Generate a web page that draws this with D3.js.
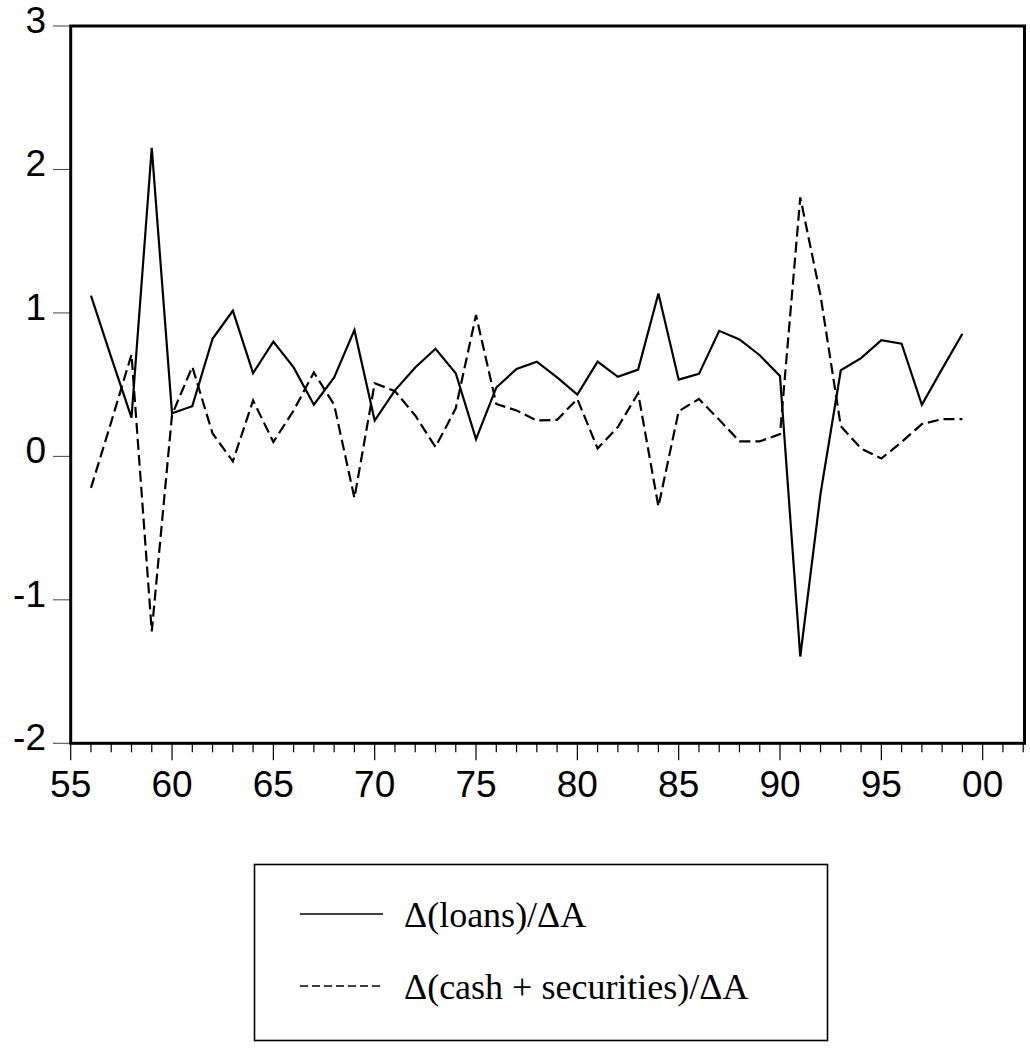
<html>
<head>
<meta charset="utf-8">
<script src="https://d3js.org/d3.v7.min.js"></script>
<style>
  body { margin: 0; background: #fff; }
  svg text.tick { font-family: "Liberation Sans", Arial, sans-serif; font-size: 37px; fill: #000; }
  svg text.leg { font-family: "Liberation Serif", "Times New Roman", serif; font-size: 36px; fill: #000; }
</style>
</head>
<body>
<div id="container"></div>
<script>
// data
var years = [1956, 1957, 1958, 1959, 1960, 1961, 1962, 1963, 1964, 1965,
             1966, 1967, 1968, 1969, 1970, 1971, 1972, 1973, 1974, 1975,
             1976, 1977, 1978, 1979, 1980, 1981, 1982, 1983, 1984, 1985,
             1986, 1987, 1988, 1989, 1990, 1991, 1992, 1993, 1994, 1995,
             1996, 1997, 1998, 1999];

var loans = [1.12, 0.69, 0.27, 2.15, 0.30, 0.35, 0.82, 1.015, 0.58, 0.80,
             0.62, 0.36, 0.55, 0.88, 0.25, 0.46, 0.62, 0.75, 0.58, 0.12,
             0.48, 0.61, 0.66, 0.55, 0.43, 0.66, 0.555, 0.605, 1.135, 0.535,
             0.575, 0.875, 0.815, 0.705, 0.56, -1.395, -0.26, 0.60, 0.685, 0.81,
             0.785, 0.36, 0.61, 0.855];

var cashSec = [-0.22, 0.24, 0.71, -1.22, 0.29, 0.625, 0.16, -0.035, 0.39, 0.10,
               0.32, 0.585, 0.36, -0.29, 0.51, 0.455, 0.285, 0.065, 0.335, 0.985,
               0.365, 0.32, 0.25, 0.255, 0.40, 0.055, 0.205, 0.44, -0.35, 0.315,
               0.40, 0.255, 0.105, 0.105, 0.155, 1.805, 1.12, 0.21, 0.055, -0.015,
               0.10, 0.225, 0.26, 0.26];

var yTicks = [-2, -1, 0, 1, 2, 3];
var xLabelYears = [1955, 1960, 1965, 1970, 1975, 1980, 1985, 1990, 1995, 2000];
var xLabels = ["55", "60", "65", "70", "75", "80", "85", "90", "95", "00"];
var legendNames = ["\u0394(loans)/\u0394A", "\u0394(cash + securities)/\u0394A"];

var width = 1030, height = 1057;
var plot = { left: 70.7, right: 1023.2, top: 26, bottom: 743.3 };

var svg = d3.select('#container').append('svg')
  .attr('width', width)
  .attr('height', height);

var x = d3.scaleLinear().domain([1955, 2002]).range([plot.left, plot.right]);
var y = d3.scaleLinear().domain([-2, 3]).range([plot.bottom, plot.top]);

// y ticks + labels
yTicks.forEach(function(d) {
  svg.append('line')
    .attr('x1', 53).attr('x2', plot.left)
    .attr('y1', y(d)).attr('y2', y(d))
    .attr('stroke', '#444').attr('stroke-width', 1);
  svg.append('text')
    .attr('class', 'tick')
    .attr('x', 46).attr('y', y(d) + 7)
    .attr('text-anchor', 'end')
    .text(d < 0 ? '-' + Math.abs(d) : d);
});

// x ticks, one per year, longer every 5
d3.range(1955, 2003).forEach(function(yr) {
  var major = xLabelYears.indexOf(yr) >= 0;
  svg.append('line')
    .attr('x1', x(yr)).attr('x2', x(yr))
    .attr('y1', plot.bottom).attr('y2', plot.bottom + (major ? 17 : 9))
    .attr('stroke', '#000').attr('stroke-width', 1.2);
});
xLabelYears.forEach(function(yr, i) {
  svg.append('text')
    .attr('class', 'tick')
    .attr('x', x(yr)).attr('y', 797)
    .attr('text-anchor', 'middle')
    .text(xLabels[i]);
});

// frame
svg.append('rect')
  .attr('x', plot.left).attr('y', plot.top)
  .attr('width', plot.right + 1.3 - plot.left).attr('height', plot.bottom - plot.top)
  .attr('fill', 'none').attr('stroke', '#000').attr('stroke-width', 3);

var line = d3.line()
  .x(function(d, i) { return x(years[i]); })
  .y(function(d) { return y(d); });

svg.append('path')
  .attr('d', line(loans))
  .attr('fill', 'none').attr('stroke', '#000').attr('stroke-width', 2.2);

svg.append('path')
  .attr('d', line(cashSec))
  .attr('fill', 'none').attr('stroke', '#000').attr('stroke-width', 2.2)
  .attr('stroke-dasharray', '11,5');

// legend
svg.append('rect')
  .attr('x', 254.5).attr('y', 864.5)
  .attr('width', 573).attr('height', 176)
  .attr('fill', 'none').attr('stroke', '#000').attr('stroke-width', 1.6);

var legY = [914, 986];
legendNames.forEach(function(name, i) {
  svg.append('line')
    .attr('x1', 300).attr('x2', 383)
    .attr('y1', legY[i]).attr('y2', legY[i])
    .attr('stroke', '#000').attr('stroke-width', 1.6)
    .attr('stroke-dasharray', i === 1 ? '8,4' : null);
  svg.append('text')
    .attr('class', 'leg')
    .attr('x', 404).attr('y', legY[i] + 13)
    .text(name);
});
</script>
</body>
</html>
